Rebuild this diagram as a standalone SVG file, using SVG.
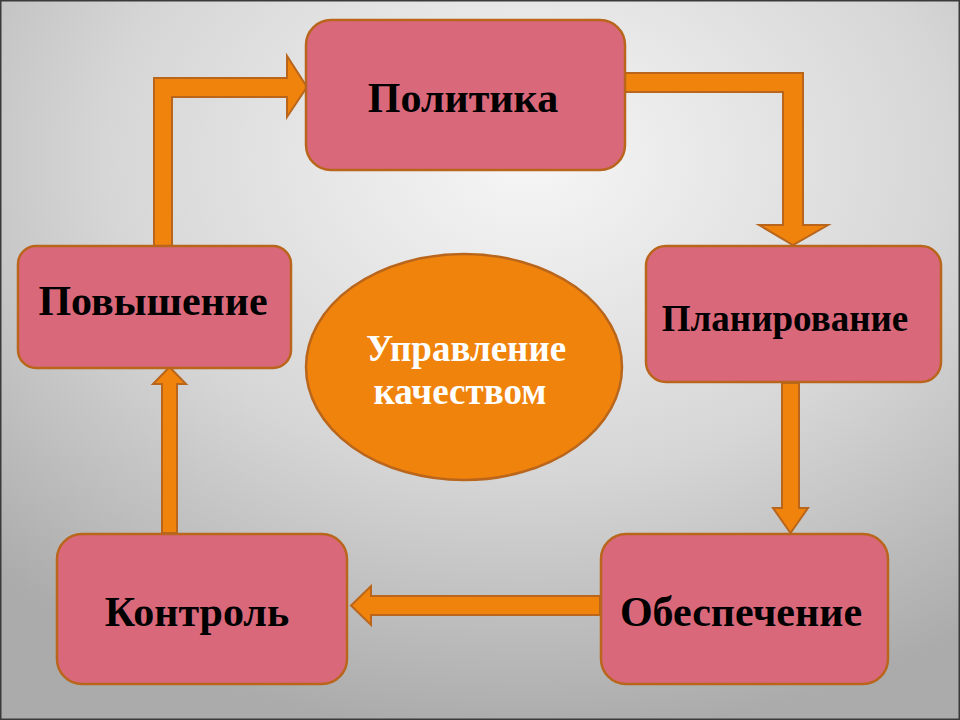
<svg xmlns="http://www.w3.org/2000/svg" width="960" height="720" viewBox="0 0 960 720">
  <defs>
    <radialGradient id="bg" cx="0.55" cy="0.22" r="0.8" fx="0.55" fy="0.22">
      <stop offset="0" stop-color="#f6f6f6"/>
      <stop offset="0.55" stop-color="#d6d6d6"/>
      <stop offset="1" stop-color="#ababab"/>
    </radialGradient>
  </defs>
  <style>
    .box { fill: #d9697a; stroke: #b9661c; stroke-width: 2.5; }
    .arrow { fill: #f0830b; stroke: #b9661c; stroke-width: 2; stroke-linejoin: miter; }
    .lbl { font-family: "Liberation Serif", "Times New Roman", serif; font-weight: bold; font-size: 42px; fill: #000; text-anchor: middle; }
    .center { fill: #f0830b; stroke: #b9661c; stroke-width: 2.5; }
    .clbl { font-family: "Liberation Serif", "Times New Roman", serif; font-weight: bold; font-size: 37px; fill: #ffffff; text-anchor: middle; }
  </style>
  <rect x="0" y="0" width="960" height="720" fill="url(#bg)"/>
  <rect x="0.75" y="0.75" width="958.5" height="718.5" fill="none" stroke="#3a3a3a" stroke-width="1.5"/>

  <g id="connectors">
    <polygon class="arrow" points="154,247 154,78 287,78 287,56 307,87 287,117 287,97 172,97 172,247"/>
    <polygon class="arrow" points="623,73 803,73 803,225 828,225 793,245 759,225 783,225 783,92 623,92"/>
    <polygon class="arrow" points="782,383 799,383 799,508 808,508 790.5,533 773,508 782,508"/>
    <polygon class="arrow" points="600,596 600,615 371,615 371,625 351,605.5 371,586 371,596"/>
    <polygon class="arrow" points="162,533 162,384 153,384 169.5,367 186,384 177,384 177,533"/>
  </g>

  <g id="node-politika">
    <rect class="box" x="306" y="20" width="319" height="150" rx="25"/>
    <text class="lbl" x="463" y="112">Политика</text>
  </g>
  <g id="node-povyshenie">
    <rect class="box" x="18" y="246" width="273" height="122" rx="18"/>
    <text class="lbl" x="153" y="315">Повышение</text>
  </g>
  <g id="node-planirovanie">
    <rect class="box" x="646" y="246" width="295" height="136" rx="20"/>
    <text class="lbl" x="785" y="331" style="font-size:37px">Планирование</text>
  </g>
  <g id="node-obespechenie">
    <rect class="box" x="601" y="534" width="287" height="150" rx="25"/>
    <text class="lbl" x="741" y="626">Обеспечение</text>
  </g>
  <g id="node-kontrol">
    <rect class="box" x="57" y="534" width="290" height="150" rx="25"/>
    <text class="lbl" x="197" y="626">Контроль</text>
  </g>
  <g id="node-center">
    <ellipse class="center" cx="464" cy="367" rx="158" ry="113"/>
    <text class="clbl" x="466" y="361">Управление</text>
    <text class="clbl" x="460" y="404">качеством</text>
  </g>
</svg>
